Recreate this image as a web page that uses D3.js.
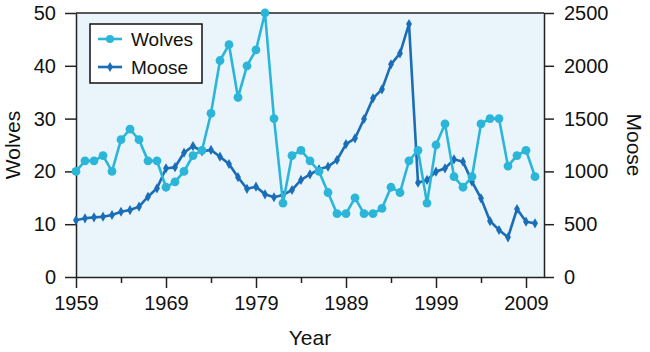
<!DOCTYPE html>
<html>
<head>
<meta charset="utf-8">
<script src="https://cdn.jsdelivr.net/npm/d3@7"></script>
<style>
  body { margin: 0; background: #fff; }
  svg { font-family: 'Liberation Sans', Arial, sans-serif; }
</style>
</head>
<body>
<div id="chart"></div>
<script>
const years = d3.range(1959, 2011)
const wolves = [20, 22, 22, 23, 20, 26, 28, 26, 22, 22, 17, 18, 20, 23, 24, 31, 41, 44, 34, 40,
  43, 50, 30, 14, 23, 24, 22, 20, 16, 12, 12, 15, 12, 12, 13, 17, 16, 22, 24, 14,
  25, 29, 19, 17, 19, 29, 30, 30, 21, 23, 24, 19]
const moose = [538, 556, 565, 571, 587, 618, 634, 666, 760, 840, 1029, 1040, 1177, 1240, 1190, 1203,
  1139, 1070, 945, 835, 855, 783, 755, 776, 824, 919, 972, 1020, 1045, 1108, 1259, 1313,
  1496, 1692, 1777, 2014, 2118, 2396, 893, 919, 997, 1029, 1114, 1092, 903, 745,
  530, 445, 376, 644, 524, 508]
const xTicks = [1959, 1969, 1979, 1989, 1999, 2009]
const xMinor = [1964, 1974, 1984, 1994, 2004]
const wolfTicks = [0, 10, 20, 30, 40, 50]
const mooseTicks = [0, 500, 1000, 1500, 2000, 2500]

const width = 650
const height = 352
const margin = {top: 13, right: 106, bottom: 75, left: 76}

const WOLF = '#2bb6d9'
const MOOSE = '#1a6db6'
const AXIS = '#222'

const x = d3.scaleLinear().domain([1959, 2011]).range([margin.left, width - margin.right])
const yW = d3.scaleLinear().domain([0, 50]).range([height - margin.bottom, margin.top])
const yM = d3.scaleLinear().domain([0, 2500]).range([height - margin.bottom, margin.top])

const svg = d3.select('#chart').append('svg')
  .attr('width', width)
  .attr('height', height)

svg.append('rect')
  .attr('x', margin.left)
  .attr('y', margin.top)
  .attr('width', x(2011) - x(1959))
  .attr('height', yW(0) - yW(50))
  .attr('fill', '#eaf5fb')

const axisStyle = g => g
  .call(g => g.selectAll('.domain').attr('stroke', AXIS).attr('stroke-width', 1.5))
  .call(g => g.selectAll('.tick line').attr('stroke', AXIS).attr('stroke-width', 1.5))
  .call(g => g.selectAll('.tick text').attr('fill', '#111').attr('font-size', 20))

// x axis
svg.append('g')
  .attr('transform', `translate(0,${yW(0)})`)
  .call(d3.axisBottom(x).tickValues(xTicks).tickFormat(d3.format('d')).tickSize(11).tickSizeOuter(0).tickPadding(8))
  .call(axisStyle)

svg.append('g')
  .attr('transform', `translate(0,${yW(0)})`)
  .call(d3.axisBottom(x).tickValues(xMinor).tickFormat('').tickSize(6).tickSizeOuter(0))
  .call(g => g.select('.domain').remove())
  .call(axisStyle)

// left axis
svg.append('g')
  .attr('transform', `translate(${margin.left},0)`)
  .call(d3.axisLeft(yW).tickValues(wolfTicks).tickSize(11).tickSizeOuter(0).tickPadding(9))
  .call(axisStyle)

// right axis
svg.append('g')
  .attr('transform', `translate(${x(2011)},0)`)
  .call(d3.axisRight(yM).tickValues(mooseTicks).tickFormat(d3.format('d')).tickSize(10).tickSizeOuter(0).tickPadding(10))
  .call(axisStyle)

// top frame line
svg.append('line')
  .attr('x1', margin.left).attr('x2', x(2011))
  .attr('y1', margin.top).attr('y2', margin.top)
  .attr('stroke', AXIS).attr('stroke-width', 1.5)

// axis titles
svg.append('text')
  .attr('x', (margin.left + x(2011)) / 2)
  .attr('y', 345)
  .attr('text-anchor', 'middle')
  .attr('font-size', 21)
  .attr('fill', '#111')
  .text('Year')

svg.append('text')
  .attr('transform', `translate(20,${(yW(0) + yW(50)) / 2}) rotate(-90)`)
  .attr('text-anchor', 'middle')
  .attr('font-size', 21)
  .attr('fill', '#111')
  .text('Wolves')

svg.append('text')
  .attr('transform', `translate(627,${(yW(0) + yW(50)) / 2}) rotate(90)`)
  .attr('text-anchor', 'middle')
  .attr('font-size', 21)
  .attr('fill', '#111')
  .text('Moose')

// series
const lineW = d3.line().x((d, i) => x(years[i])).y(d => yW(d))
const lineM = d3.line().x((d, i) => x(years[i])).y(d => yM(d))

const diamond = d3.symbol().type(d3.symbolDiamond).size(30)

svg.append('path')
  .attr('d', lineM(moose))
  .attr('fill', 'none')
  .attr('stroke', MOOSE)
  .attr('stroke-width', 2.6)

svg.append('g').selectAll('path')
  .data(moose)
  .join('path')
  .attr('transform', (d, i) => `translate(${x(years[i])},${yM(d)})`)
  .attr('d', diamond)
  .attr('fill', MOOSE)

svg.append('path')
  .attr('d', lineW(wolves))
  .attr('fill', 'none')
  .attr('stroke', WOLF)
  .attr('stroke-width', 2.6)

svg.append('g').selectAll('circle')
  .data(wolves)
  .join('circle')
  .attr('cx', (d, i) => x(years[i]))
  .attr('cy', d => yW(d))
  .attr('r', 4.4)
  .attr('fill', WOLF)

// legend
const legend = svg.append('g').attr('transform', 'translate(90,24)')
legend.append('rect')
  .attr('width', 112)
  .attr('height', 59)
  .attr('fill', '#fff')
  .attr('stroke', '#111')
  .attr('stroke-width', 1.5)

const items = [
  {name: 'Wolves', color: WOLF, shape: 'circle'},
  {name: 'Moose', color: MOOSE, shape: 'diamond'}
]
const row = legend.selectAll('g.item')
  .data(items)
  .join('g')
  .attr('class', 'item')
  .attr('transform', (d, i) => `translate(8,${15 + i * 28})`)

row.append('line')
  .attr('x1', 0).attr('x2', 24)
  .attr('stroke', d => d.color)
  .attr('stroke-width', 2.6)

row.append('path')
  .attr('transform', 'translate(12,0)')
  .attr('d', d => d.shape === 'circle'
    ? d3.symbol().type(d3.symbolCircle).size(50)()
    : diamond())
  .attr('fill', d => d.color)

row.append('text')
  .attr('x', 33)
  .attr('dy', '0.35em')
  .attr('font-size', 19)
  .attr('fill', '#111')
  .text(d => d.name)
</script>
</body>
</html>
